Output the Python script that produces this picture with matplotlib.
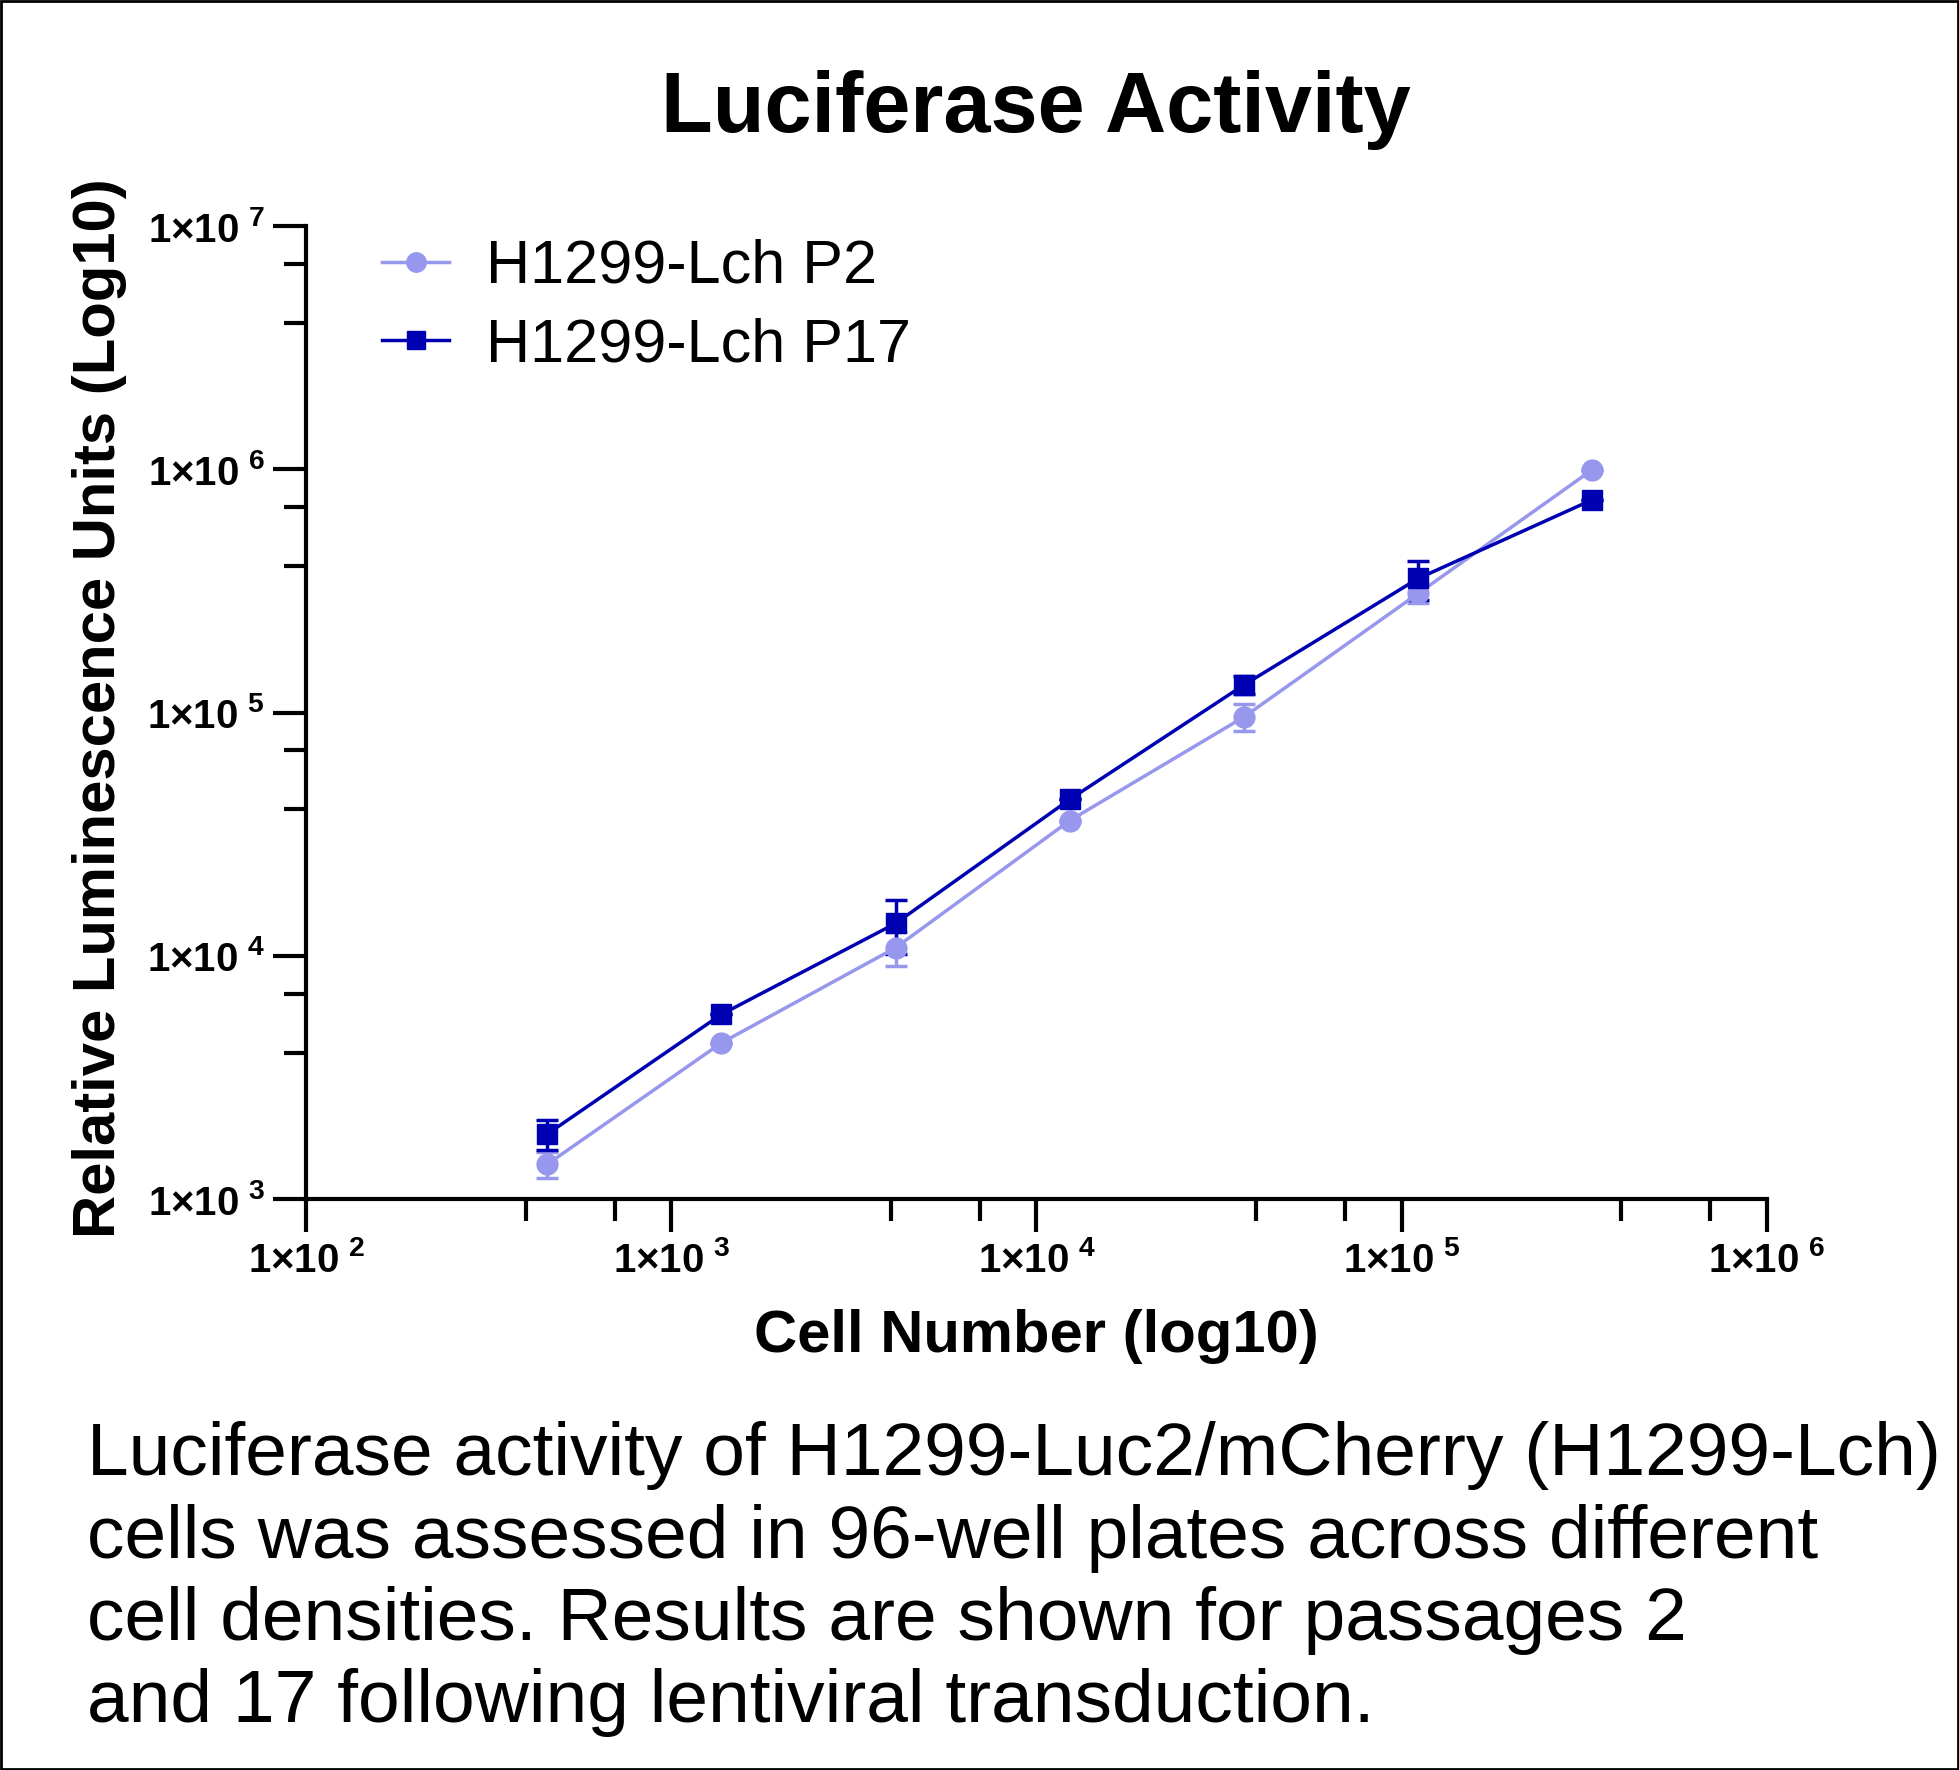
import numpy as np
import matplotlib
matplotlib.use('Agg')
import matplotlib.pyplot as plt
from matplotlib.ticker import FixedLocator, NullFormatter
from matplotlib.patches import Rectangle
from matplotlib.lines import Line2D

plt.rcParams['font.family'] = ['Liberation Sans', 'DejaVu Sans']
plt.rcParams['mathtext.fontset'] = 'custom'
plt.rcParams['mathtext.rm'] = 'Liberation Sans'
plt.rcParams['mathtext.bf'] = 'Liberation Sans:bold'

# Data (3-fold dilution series)
cells = [457, 1372, 4115, 12346, 37037, 111111, 333333]
p2_mean = [1390, 4390, 10800, 36000, 96000, 309000, 997000]
p2_err = [170, 0, 1750, 0, 12000, 28000, 0]
p17_mean = [1850, 5750, 13600, 44000, 130000, 356000, 750000]
p17_err = [260, 0, 3400, 0, 11000, 65000, 0]

labels = ['H1299-Lch P2', 'H1299-Lch P17']
col_p2 = '#9797ee'
col_p17 = '#0000b3'

x_major = [1e2, 1e3, 1e4, 1e5, 1e6]
y_major = [1e3, 1e4, 1e5, 1e6, 1e7]

fig = plt.figure(figsize=(19.59, 17.70), dpi=100)
ax = fig.add_axes([0.1563, 0.3225, 0.9018 - 0.1563, 0.8723 - 0.3225])

ax.errorbar(cells, p2_mean, yerr=p2_err, color=col_p2, marker='o', markersize=15,
            linewidth=2.5, capsize=8, capthick=2.5, elinewidth=2.5)
ax.errorbar(cells, p17_mean, yerr=p17_err, color=col_p17, marker='s', markersize=14,
            linewidth=2.5, capsize=8, capthick=2.5, elinewidth=2.5)

ax.set_xscale('log')
ax.set_yscale('log')
ax.set_xlim(1e2, 1e6)
ax.set_ylim(1e3, 1e7)

for s in ['top', 'right']:
    ax.spines[s].set_visible(False)
for s in ['left', 'bottom']:
    ax.spines[s].set_linewidth(3)

def sup_label(v):
    return r'$\mathbf{1{\times}10^{\ %d}}$' % int(round(np.log10(v)))

ax.xaxis.set_major_locator(FixedLocator(x_major))
ax.yaxis.set_major_locator(FixedLocator(y_major))
ax.set_xticklabels([sup_label(v) for v in x_major])
ax.set_yticklabels([sup_label(v) for v in y_major])
x_minor = [m * 10 ** k for k in range(2, 6) for m in (4, 7)]
y_minor = [m * 10 ** k for k in range(3, 7) for m in (4, 7)]
ax.xaxis.set_minor_locator(FixedLocator(x_minor))
ax.yaxis.set_minor_locator(FixedLocator(y_minor))
ax.xaxis.set_minor_formatter(NullFormatter())
ax.yaxis.set_minor_formatter(NullFormatter())
ax.tick_params(which='major', length=24, width=3, labelsize=29, pad=6)
ax.tick_params(which='minor', length=16, width=3)

fig.text(0.529, 0.938, 'Luciferase Activity', ha='center', va='center',
         fontsize=61, fontweight='bold')
fig.text(0.529, 0.245, 'Cell Number (log10)', ha='center', va='center',
         fontsize=43, fontweight='bold')
fig.text(0.051, 0.600, 'Relative Luminescence Units (Log10)', ha='center', va='center',
         rotation=90, fontsize=43, fontweight='bold')

handles = [Line2D([], [], color=col_p2, marker='o', markersize=14, linewidth=2.5),
           Line2D([], [], color=col_p17, marker='s', markersize=13, linewidth=2.5)]
ax.legend(handles, labels, loc='upper left', bbox_to_anchor=(0.195, 0.865),
          bbox_transform=fig.transFigure, frameon=False, fontsize=44,
          handlelength=1.1, handletextpad=0.6, labelspacing=0.35,
          borderpad=0, borderaxespad=0)

caption = ('Luciferase activity of H1299-Luc2/mCherry (H1299-Lch)\n'
           'cells was assessed in 96-well plates across different\n'
           'cell densities. Results are shown for passages 2\n'
           'and 17 following lentiviral transduction.')
fig.text(0.0446, 0.197, caption, ha='left', va='top', fontsize=54, linespacing=1.245)

fig.patches.append(Rectangle((0.0005, 0.0005), 0.999, 0.999, transform=fig.transFigure,
                             fill=False, edgecolor='black', linewidth=2))

fig.savefig('out.png', dpi=100)
